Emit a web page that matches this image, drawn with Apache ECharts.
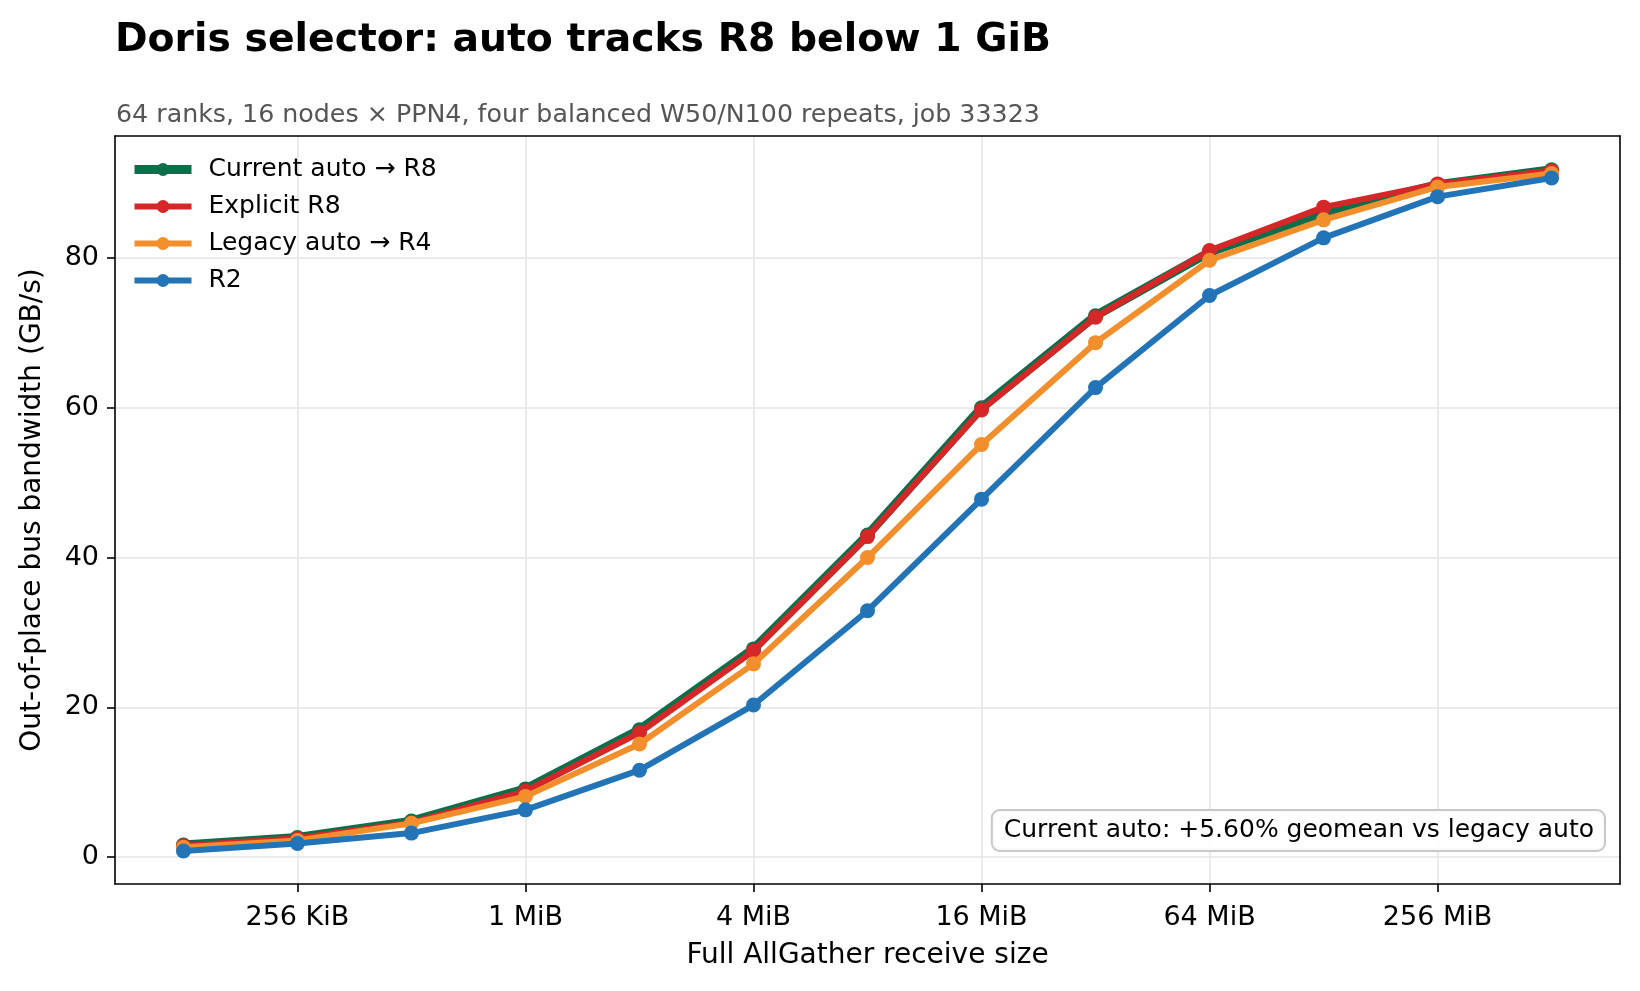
<!DOCTYPE html>
<html>
<head>
<meta charset="utf-8">
<script src="https://cdn.jsdelivr.net/npm/echarts@6/dist/echarts.min.js"></script>
<style>
  html, body { margin: 0; padding: 0; background: #fff; }
  #chart { width: 1640px; height: 991px; }
</style>
</head>
<body>
<div id="chart"></div>
<script>
// 数据: 消息大小 (字节) 和各算法带宽 (GB/s)
var sizeBytes = [131072, 262144, 524288, 1048576, 2097152, 4194304, 8388608,
                 16777216, 33554432, 67108864, 134217728, 268435456, 536870912];
var currentAuto = [1.6, 2.6, 4.8, 9.1, 17.0, 27.8, 43.0, 60.0, 72.3, 80.8, 86.0, 89.8, 91.8];
var explicitR8  = [1.5, 2.5, 4.6, 8.8, 16.6, 27.5, 42.8, 59.7, 72.1, 81.0, 86.8, 89.9, 91.7];
var legacyAuto  = [1.3, 2.2, 4.5, 8.1, 15.1, 25.8, 40.0, 55.1, 68.7, 79.7, 85.1, 89.5, 91.3];
var r2          = [0.8, 1.8, 3.2, 6.3, 11.6, 20.3, 32.9, 47.8, 62.7, 75.0, 82.7, 88.2, 90.7];

// 刻度: 256 KiB .. 256 MiB
var xTickBytes = [262144, 1048576, 4194304, 16777216, 67108864, 268435456];
var yTicks = [0, 20, 40, 60, 80];

var seriesNames = ['Current auto → R8', 'Explicit R8', 'Legacy auto → R4', 'R2'];
var seriesData = [currentAuto, explicitR8, legacyAuto, r2];
var seriesColors = ['#0e6e4a', '#d62728', '#f28e2b', '#2274b7'];
var lineWidths = [9, 6, 6, 6];

var FONT = 'DejaVu Sans';

function sizeLabel(v) {
    var p = Math.round(Math.log2(v));
    if (p >= 30) return Math.pow(2, p - 30) + ' GiB';
    if (p >= 20) return Math.pow(2, p - 20) + ' MiB';
    return Math.pow(2, p - 10) + ' KiB';
}

var chart = echarts.init(document.getElementById('chart'));

var series = seriesNames.map(function (name, i) {
    return {
        name: name,
        type: 'line',
        data: sizeBytes.map(function (s, j) { return [s, seriesData[i][j]]; }),
        symbol: 'circle',
        symbolSize: 15,
        showSymbol: true,
        color: seriesColors[i],
        lineStyle: { width: lineWidths[i], color: seriesColors[i] },
        itemStyle: { color: seriesColors[i] },
        z: 2 + i,
        animation: false
    };
});

var axisLineStyle = { color: '#000', width: 1.6 };
var gridLineStyle = { color: '#e5e5e5', width: 1.5 };

function buildOption(xTickVals) {
    return {
        backgroundColor: '#fff',
        animation: false,
        title: [{
            text: 'Doris selector: auto tracks R8 below 1 GiB',
            left: 110, top: 16,
            textStyle: { fontFamily: FONT, fontWeight: 'bold', fontSize: 39.3, color: '#000' }
        }, {
            text: '64 ranks, 16 nodes × PPN4, four balanced W50/N100 repeats, job 33323',
            left: 111, top: 98,
            textStyle: { fontFamily: FONT, fontWeight: 'normal', fontSize: 25.3, color: '#555' }
        }],
        legend: {
            orient: 'vertical',
            left: 125, top: 152,
            itemWidth: 57, itemHeight: 16,
            itemGap: 12,
            textStyle: { fontFamily: FONT, fontSize: 25, color: '#000', padding: [0, 0, 0, 12] },
            data: seriesNames.map(function (n, i) {
                return { name: n, lineStyle: { width: lineWidths[i] } };
            })
        },
        grid: {
            left: 115, right: 20, top: 136, bottom: 107,
            containLabel: false
        },
        xAxis: [{
            type: 'log',
            logBase: 2,
            min: Math.pow(2, 16.4),
            max: Math.pow(2, 29.6),
            name: 'Full AllGather receive size',
            nameLocation: 'middle',
            nameGap: 58,
            nameTextStyle: { fontFamily: FONT, fontSize: 28, color: '#000' },
            axisLine: { show: true, onZero: false, lineStyle: axisLineStyle },
            axisTick: { show: true, inside: false, length: 8, lineStyle: axisLineStyle,
                        customValues: xTickVals },
            axisLabel: {
                fontFamily: FONT, fontSize: 27, color: '#000', margin: 20,
                customValues: xTickVals,
                formatter: sizeLabel
            },
            splitLine: { show: true, lineStyle: gridLineStyle }
        }, {
            type: 'log',
            logBase: 2,
            position: 'top',
            min: Math.pow(2, 16.4),
            max: Math.pow(2, 29.6),
            axisLine: { show: true, onZero: false, lineStyle: axisLineStyle },
            axisTick: { show: false },
            axisLabel: { show: false },
            splitLine: { show: false }
        }],
        yAxis: [{
            type: 'value',
            min: -3.6,
            max: 96.3,
            name: 'Out-of-place bus bandwidth (GB/s)',
            nameLocation: 'middle',
            nameGap: 68,
            nameRotate: 90,
            nameTextStyle: { fontFamily: FONT, fontSize: 28, color: '#000' },
            axisLine: { show: true, onZero: false, lineStyle: axisLineStyle },
            axisTick: { show: true, inside: false, length: 8, lineStyle: axisLineStyle,
                        customValues: yTicks },
            axisLabel: {
                fontFamily: FONT, fontSize: 27, color: '#000', margin: 16,
                customValues: yTicks
            },
            splitLine: { show: true, lineStyle: gridLineStyle }
        }, {
            type: 'value',
            position: 'right',
            min: -3.6,
            max: 96.3,
            axisLine: { show: true, onZero: false, lineStyle: axisLineStyle },
            axisTick: { show: false },
            axisLabel: { show: false },
            splitLine: { show: false }
        }],
        graphic: [{
            type: 'text',
            right: 34, top: 809,
            z: 100,
            style: {
                text: 'Current auto: +5.60% geomean vs legacy auto',
                font: '25px "DejaVu Sans"',
                fill: '#000',
                backgroundColor: 'rgba(255,255,255,0.9)',
                borderColor: '#c8c8c8',
                borderWidth: 2,
                borderRadius: 7,
                padding: [7, 10, 7, 11]
            }
        }],
        series: series
    };
}

chart.setOption(buildOption(xTickBytes));

// 对数轴的自定义刻度如果按指数空间解析, 就改用 log2 值
var xAxisObj = chart.getModel().getComponent('xAxis', 0).axis;
if (xAxisObj.getTicksCoords().length < 3) {
    chart.setOption(buildOption(xTickBytes.map(function (b) { return Math.log2(b); })), true);
}
</script>
</body>
</html>
